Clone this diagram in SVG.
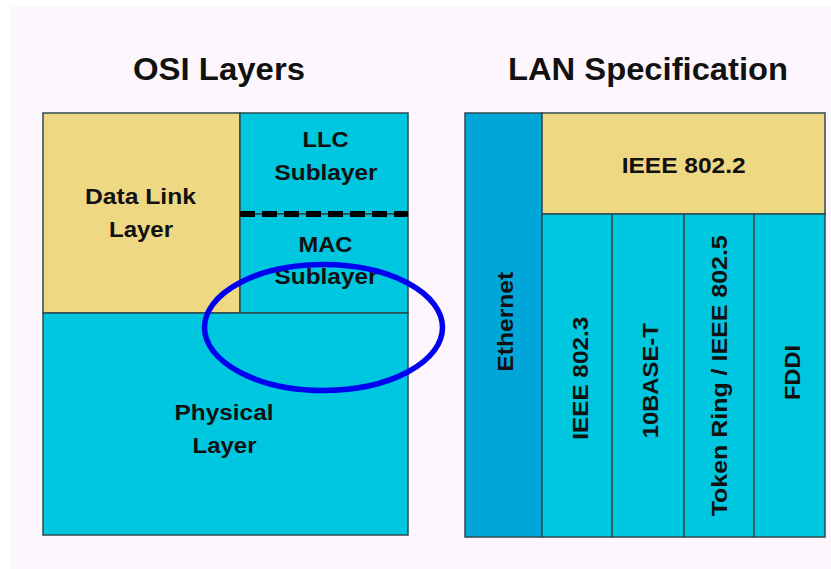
<svg xmlns="http://www.w3.org/2000/svg" width="831" height="569" viewBox="0 0 831 569">
<style>
.t{font-family:"Liberation Sans",Arial,sans-serif;font-weight:bold;fill:#111;text-anchor:middle}
.b{font-size:22px}
.h{font-size:31px}
.box{stroke:#2f4a50;stroke-width:1.5}
.y{fill:#efd883}
.c{fill:#00c7e0}
.e{fill:#00a6d8}
</style>
<rect x="0" y="0" width="831" height="569" fill="#ffffff"/>
<rect x="10" y="6" width="821" height="563" fill="#fdf7fd"/>
<text class="t h" x="219" y="80" textLength="172" lengthAdjust="spacingAndGlyphs">OSI Layers</text>
<text class="t h" x="648" y="80" textLength="280" lengthAdjust="spacingAndGlyphs">LAN Specification</text>
<g id="datalink"><rect class="box y" x="43" y="113" width="197" height="200"/><text class="t b" x="140.5" y="203.5" textLength="111" lengthAdjust="spacingAndGlyphs">Data Link</text><text class="t b" x="141" y="236.5" textLength="64" lengthAdjust="spacingAndGlyphs">Layer</text></g>
<g id="llc"><rect class="box c" x="240" y="113" width="168" height="101"/><text class="t b" x="325.5" y="147" textLength="46" lengthAdjust="spacingAndGlyphs">LLC</text><text class="t b" x="326" y="180" textLength="103" lengthAdjust="spacingAndGlyphs">Sublayer</text></g>
<g id="mac"><rect class="box c" x="240" y="214" width="168" height="99"/><text class="t b" x="325.5" y="251.5" textLength="54" lengthAdjust="spacingAndGlyphs">MAC</text><text class="t b" x="326" y="283.5" textLength="103" lengthAdjust="spacingAndGlyphs">Sublayer</text></g>
<g id="physical"><rect class="box c" x="43" y="313" width="365" height="222"/><text class="t b" x="224" y="420" textLength="99" lengthAdjust="spacingAndGlyphs">Physical</text><text class="t b" x="224.5" y="453" textLength="64" lengthAdjust="spacingAndGlyphs">Layer</text></g>
<g id="connectors"><line x1="240" y1="214" x2="408" y2="214" stroke="#000" stroke-width="6" stroke-dasharray="15,7"/></g>
<g id="ethernet"><rect class="box e" x="465" y="113" width="77" height="424"/><text class="t b" transform="translate(513,321.7) rotate(-90)" textLength="100" lengthAdjust="spacingAndGlyphs">Ethernet</text></g>
<g id="ieee8022"><rect class="box y" x="542" y="113" width="283" height="101"/><text class="t b" x="683.7" y="173.3" textLength="124" lengthAdjust="spacingAndGlyphs">IEEE 802.2</text></g>
<g id="ieee8023"><rect class="box c" x="542" y="214" width="70" height="323"/><text class="t b" transform="translate(588,378.3) rotate(-90)" textLength="123" lengthAdjust="spacingAndGlyphs">IEEE 802.3</text></g>
<g id="base10t"><rect class="box c" x="612" y="214" width="72" height="323"/><text class="t b" transform="translate(658,380.8) rotate(-90)" textLength="115" lengthAdjust="spacingAndGlyphs">10BASE-T</text></g>
<g id="tokenring"><rect class="box c" x="684" y="214" width="70" height="323"/><text class="t b" transform="translate(726.7,375.8) rotate(-90)" textLength="281" lengthAdjust="spacingAndGlyphs">Token Ring / IEEE 802.5</text></g>
<g id="fddi"><rect class="box c" x="754" y="214" width="71" height="323"/><text class="t b" transform="translate(800,372.5) rotate(-90)" textLength="55" lengthAdjust="spacingAndGlyphs">FDDI</text></g>
<g id="highlight"><ellipse cx="323.5" cy="327.5" rx="119" ry="63" fill="none" stroke="#0000f0" stroke-width="5.5"/></g>
</svg>
